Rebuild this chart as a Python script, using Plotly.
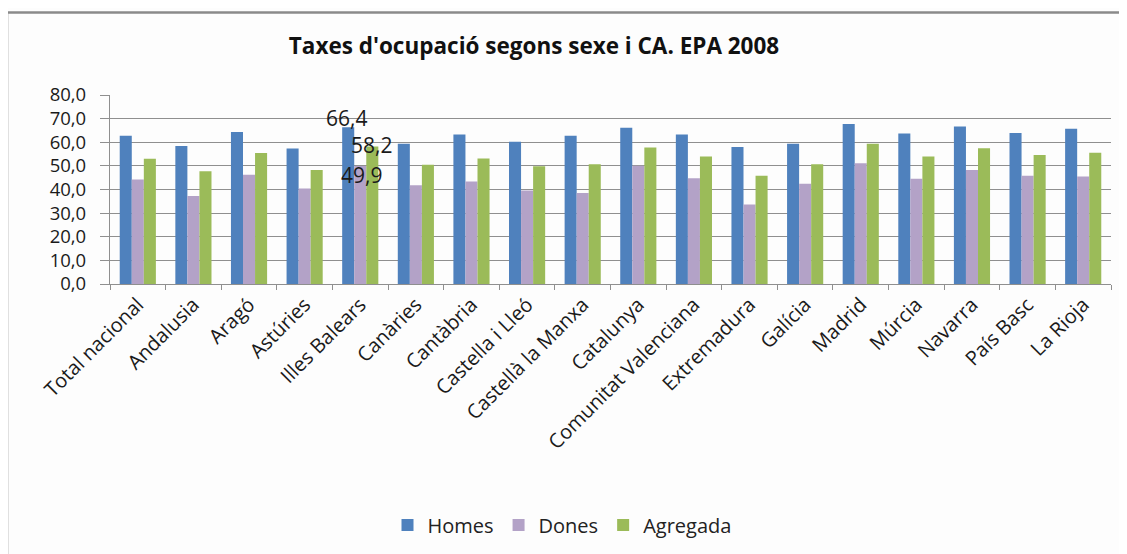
import plotly.graph_objects as go

categories = ["Total nacional", "Andalusia", "Aragó", "Astúries", "Illes Balears", "Canàries",
              "Cantàbria", "Castella i Lleó", "Castellà la Manxa", "Catalunya",
              "Comunitat Valenciana", "Extremadura", "Galícia", "Madrid", "Múrcia",
              "Navarra", "País Basc", "La Rioja"]
homes = [62.7, 58.4, 64.3, 57.4, 66.4, 59.4, 63.3, 60.2, 62.7, 66.1, 63.3, 58.0, 59.4, 67.7, 63.7, 66.7, 63.9, 65.7]
dones = [44.2, 37.2, 46.2, 40.4, 49.9, 41.8, 43.4, 39.6, 38.5, 50.1, 44.8, 33.7, 42.4, 51.1, 44.5, 48.3, 45.8, 45.5]
agregada = [53.0, 47.7, 55.4, 48.3, 58.2, 50.5, 53.1, 49.8, 50.7, 57.8, 54.0, 45.8, 50.7, 59.4, 54.0, 57.5, 54.6, 55.6]
series_names = ["Homes", "Dones", "Agregada"]
colors = ["#4F81BD", "#B3A2C7", "#9BBB59"]
y_ticks = [0, 10, 20, 30, 40, 50, 60, 70, 80]
labelled_category = "Illes Balears"
title_text = "Taxes d'ocupació segons sexe i CA. EPA 2008"

font_family = "Open Sans, Lato, sans-serif"

fig = go.Figure()
for name, vals, col in zip(series_names, [homes, dones, agregada], colors):
    fig.add_trace(go.Bar(x=categories, y=vals, name=name, marker_color=col,
                         marker_line_width=0))

OFF = 8  # page body margin
W, H = 1127 - OFF, 554 - OFF
L, R, T = 110 - OFF, 16, 95 - OFF
ph = 190
B = H - T - ph
pw = W - L - R

def px_x(sx):
    return (sx - OFF - L) / pw

def px_y(sy):
    return 1 - (sy - OFF - T) / ph

fig.update_layout(
    width=W, height=H,
    margin=dict(l=L, r=R, t=T, b=B),
    paper_bgcolor="#fdfdfd", plot_bgcolor="#fdfdfd",
    barmode="group", bargap=0.35, bargroupgap=0,
    separators=",.",
    font=dict(family=font_family, color="#1a1a1a"),
    title=dict(text="<b>" + title_text + "</b>", x=(534 - OFF) / W, xanchor="center",
               y=1 - (46 - OFF) / H, yanchor="middle",
               font=dict(size=22.5, family=font_family, color="#111")),
    showlegend=True,
    legend=dict(orientation="h", x=px_x(562), xanchor="center",
                y=px_y(525), yanchor="middle",
                font=dict(size=20, family=font_family, color="#222"),
                itemwidth=30, traceorder="normal", bgcolor="rgba(0,0,0,0)"),
)

fig.update_yaxes(range=[0, 80], tickvals=y_ticks, tickformat=".1f",
                 showgrid=True, gridcolor="#8f8f8f", gridwidth=1.2,
                 showline=True, linecolor="#8f8f8f", linewidth=1.2,
                 ticks="outside", ticklen=9, tickcolor="#8f8f8f",
                 ticklabelstandoff=10,
                 tickfont=dict(size=18.5, family=font_family, color="#1a1a1a"),
                 zeroline=False, automargin=False)
fig.update_xaxes(type="category", tickangle=-45, tickson="boundaries",
                 ticks="outside", ticklen=5, tickcolor="#8f8f8f",
                 showline=True, linecolor="#8f8f8f", linewidth=1.2,
                 showgrid=False, automargin=False,
                 tickfont=dict(size=20, family=font_family, color="#1a1a1a"))

# data labels for one category
idx = categories.index(labelled_category)
label_specs = [(homes[idx], -13.5, 9), (agregada[idx], 11.5, 2), (dones[idx], 1.5, -8.5)]
for val, xs, ys in label_specs:
    fig.add_annotation(x=labelled_category, y=val, xref="x", yref="y",
                       text=f"{val:.1f}".replace(".", ","), showarrow=False,
                       xshift=xs, yshift=ys, xanchor="center", yanchor="middle",
                       font=dict(size=21, family=font_family, color="#1a1a1a"))

# chart-area border (top and left edges visible in the reference)
bx0 = px_x(7)
bx1 = px_x(1140)
by_top = px_y(12)
by_bot = px_y(570)
fig.add_shape(type="line", xref="paper", yref="paper", x0=bx0, x1=bx1, y0=by_top, y1=by_top,
              line=dict(color="#8a8a8a", width=2.5))
fig.add_shape(type="line", xref="paper", yref="paper", x0=bx0, x1=bx0, y0=by_top, y1=by_bot,
              line=dict(color="#8a8a8a", width=2.5))

fig.write_html("out.html")
